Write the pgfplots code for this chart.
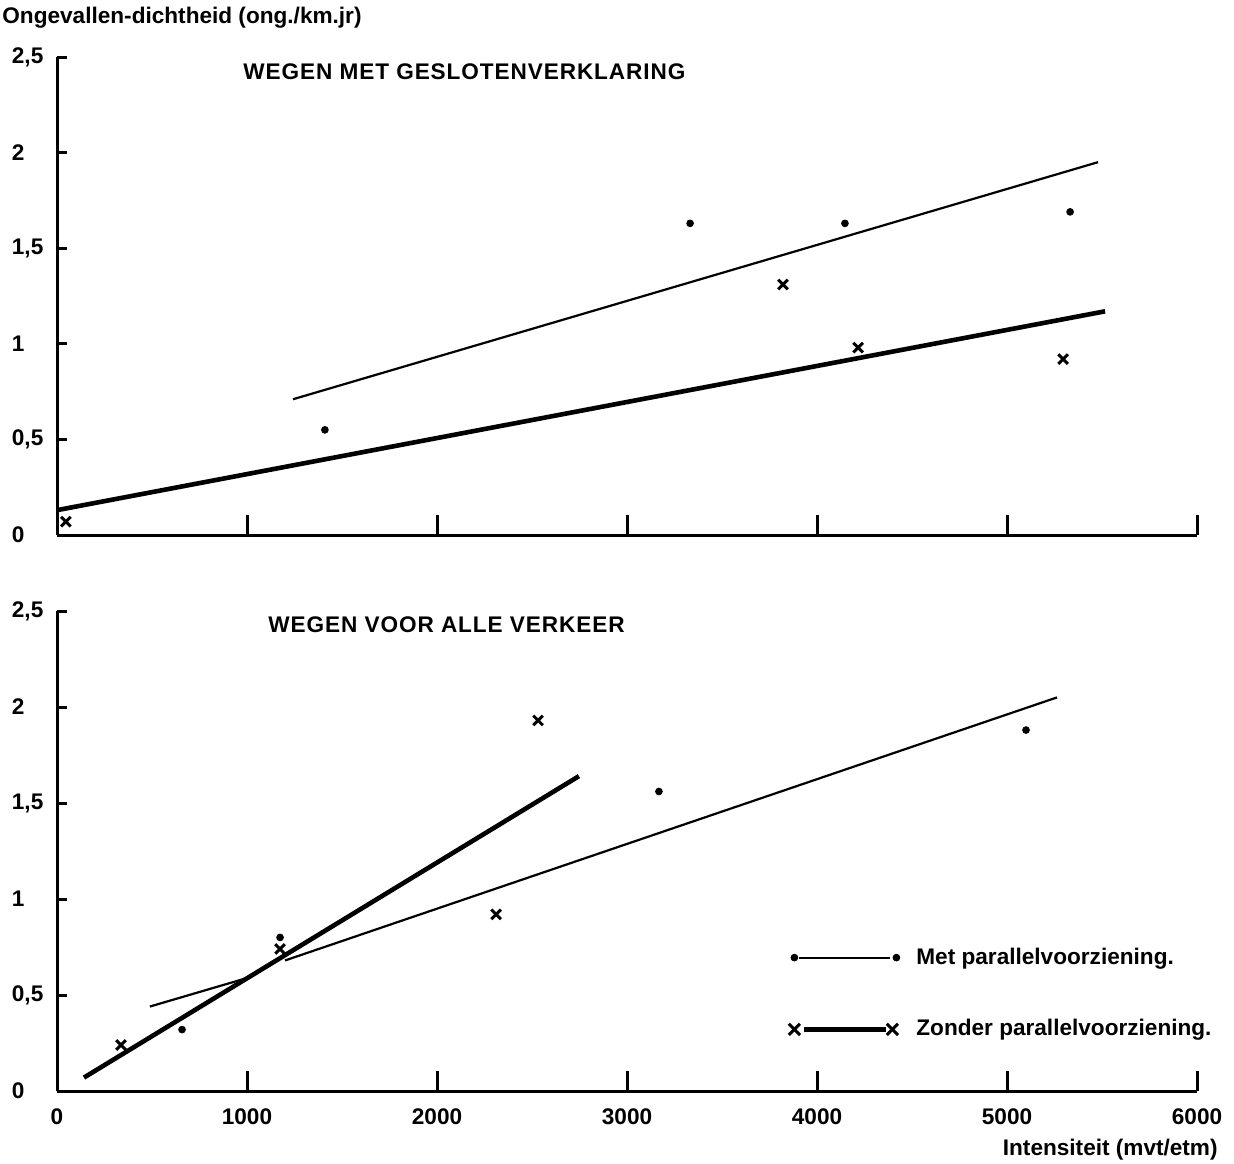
\documentclass[border=0pt]{standalone}
\usepackage{fontspec}
\setmainfont{Liberation Sans}
\newfontfamily\titlefont{Liberation Sans}[LetterSpace=4]
\usepackage{pgfplots}
\pgfplotsset{compat=1.18}
\begin{document}
\fontsize{11.3pt}{13pt}\selectfont\bfseries
\begin{tikzpicture}
\useasboundingbox (0,0) rectangle (617pt,-581.5pt);
\pgfplotsset{
  myaxis/.style={
    scale only axis, width=570pt,
    xmin=0, xmax=6000, ymin=0, ymax=2.5,
    axis x line*=bottom, axis y line*=left,
    axis line style={line width=1.5pt, black},
    tick align=inside,
    every tick/.style={black, line width=1.5pt},
    xtick={1000,2000,3000,4000,5000,6000},
    xtick style={black, line width=1.5pt, /pgfplots/major tick length=10pt},
    ytick={0,0.5,1,1.5,2},
    yticklabels={0,0{,}5,1,1{,}5,2},
    extra y ticks={2.5}, extra y tick labels={2{,}5},
    ytick style={black, line width=1.5pt, /pgfplots/major tick length=5pt},
    extra y tick style={tick style={black, line width=1.5pt, /pgfplots/major tick length=10pt}},
    yticklabel style={anchor=west, xshift=-26.5pt, font=\bfseries},
    clip=false,
    every axis plot/.append style={black},
  },
  thinl/.style={line width=1.1pt, no marks},
  thickl/.style={line width=2.3pt, no marks},
  dots/.style={only marks, mark=*, mark size=1.7pt},
  crosses/.style={only marks, mark=x, mark size=3.4pt, mark options={line width=1.5pt}},
}
% ---------- top panel ----------
\begin{axis}[myaxis, at={(28.5pt,-267.5pt)}, anchor=south west, height=239pt,
  xticklabels={}]
\addplot[dots, forget plot] coordinates {(1410,0.55) (3332,1.63) (4147,1.63) (5332,1.69)};
\addplot[crosses, forget plot] coordinates {(47,0.07) (3821,1.31) (4216,0.98) (5295,0.92)};
\addplot[thinl, forget plot] coordinates {(1242,0.71) (5479,1.95)};
\addplot[thickl, forget plot] coordinates {(0,0.13) (5516,1.17)};
\end{axis}
% ---------- bottom panel ----------
\begin{axis}[myaxis, at={(28.5pt,-545.5pt)}, anchor=south west, height=240pt,
  xtick={0,1000,2000,3000,4000,5000,6000},
  xticklabels={0,1000,2000,3000,4000,5000,6000},
  xticklabel style={yshift=-5pt, font=\bfseries},
  legend style={at={(0.635,0.316)}, anchor=north west, draw=none, fill=none,
    row sep=22pt, font=\bfseries},
  legend cell align=left]
\addplot[dots, forget plot] coordinates {(658,0.32) (1174,0.80) (3168,1.56) (5100,1.88)};
\addplot[crosses, forget plot] coordinates {(337,0.24) (1174,0.74) (2311,0.92) (2532,1.93)};
\addplot[thickl, forget plot] coordinates {(142,0.07) (2747,1.64)};
\addplot[thinl, forget plot] coordinates {(489,0.44) (1005,0.59)};
\addplot[thinl, forget plot] coordinates {(1200,0.68) (5263,2.05)};
\addlegendimage{legend image code/.code={
  \path[draw=none, fill=none] (0pt,0pt) -- (59pt,0pt);
  \draw[line width=1.1pt] (2.5pt,0pt) -- (48pt,0pt);
  \fill (0pt,0pt) circle (1.7pt);
  \fill (51pt,0pt) circle (1.7pt);}}
\addlegendentry{Met parallelvoorziening.}
\addlegendimage{legend image code/.code={
  \path[draw=none, fill=none] (0pt,0pt) -- (59pt,0pt);
  \draw[line width=2.3pt] (5pt,0pt) -- (46pt,0pt);
  \draw[line width=1.5pt] (-2.8pt,-2.8pt) -- (2.8pt,2.8pt) (-2.8pt,2.8pt) -- (2.8pt,-2.8pt);
  \draw[line width=1.5pt] (46.2pt,-2.8pt) -- (51.8pt,2.8pt) (46.2pt,2.8pt) -- (51.8pt,-2.8pt);}}
\addlegendentry{Zonder parallelvoorziening.}
\end{axis}
% ---------- texts ----------
\node[anchor=west, inner sep=0pt] at (1pt,-9pt) {Ongevallen-dichtheid (ong./km.jr)};
\node[anchor=west, inner sep=0pt, font=\titlefont\bfseries] at (121.5pt,-36pt) {WEGEN MET GESLOTENVERKLARING};
\node[anchor=west, inner sep=0pt, font=\titlefont\bfseries] at (134pt,-312.5pt) {WEGEN VOOR ALLE VERKEER};
\node[anchor=east, inner sep=0pt] at (609pt,-575pt) {Intensiteit (mvt/etm)};
\end{tikzpicture}
\end{document}
